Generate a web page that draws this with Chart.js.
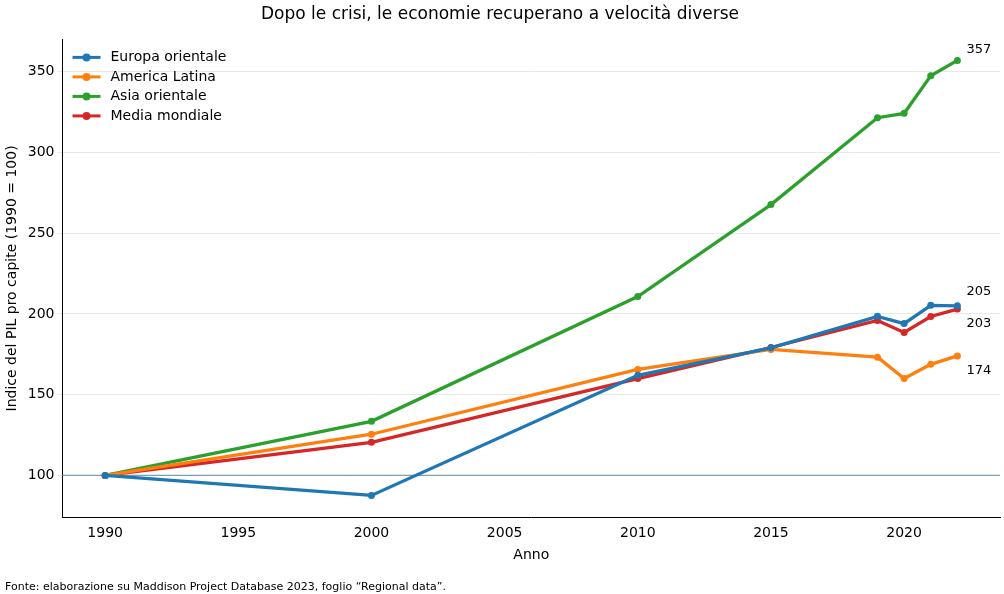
<!DOCTYPE html>
<html><head><meta charset="utf-8">
<script src="https://cdn.jsdelivr.net/npm/chart.js@4"></script>
<style>html,body{margin:0;background:#fff}#w{width:1004px;height:594px}</style>
</head><body><div id="w"><canvas id="c"></canvas></div>
<script>
// dati
const anni = [1990, 2000, 2010, 2015, 2019, 2020, 2021, 2022];
const europaOrientale = [100, 87.6, 162, 179, 198.5, 194, 205.3, 205];
const americaLatina = [100, 125.5, 165.6, 178, 173.2, 160, 168.8, 174];
const asiaOrientale = [100, 133.5, 210.8, 267.7, 321.5, 324.2, 347.5, 357];
const mediaMondiale = [100, 120.5, 160, 179.2, 196, 188.5, 198.4, 203];
const tickX = [1990, 1995, 2000, 2005, 2010, 2015, 2020];
const tickY = [100, 150, 200, 250, 300, 350];

const serie = [
  ['Europa orientale', europaOrientale, '#1f77b4'],
  ['America Latina', americaLatina, '#ff7f0e'],
  ['Asia orientale', asiaOrientale, '#2ca02c'],
  ['Media mondiale', mediaMondiale, '#d62728']
];
const font = "'DejaVu Sans', sans-serif";
Chart.defaults.font.family = font;
Chart.defaults.color = '#000';

const extra = {
  id: 'extra',
  beforeDatasetsDraw(chart) {
    const {ctx, chartArea: a, scales: {y}} = chart;
    const py = y.getPixelForValue(100);
    ctx.save();
    ctx.strokeStyle = '#7f9fb0'; ctx.lineWidth = 1.2;
    ctx.beginPath(); ctx.moveTo(a.left, py); ctx.lineTo(a.right, py); ctx.stroke();
    ctx.restore();
  },
  afterDraw(chart) {
    const {ctx, chartArea: a, scales: {x, y}} = chart;
    ctx.save();
    // etichette finali
    ctx.font = '13px ' + font; ctx.fillStyle = '#000'; ctx.textBaseline = 'middle';
    const last = anni.length - 1;
    [[europaOrientale, -14], [mediaMondiale, 15], [americaLatina, 15], [asiaOrientale, -11]].forEach(([d, dy]) => {
      const val = d[last];
      ctx.fillText(Math.round(val), x.getPixelForValue(anni[last]) + 9, y.getPixelForValue(val) + dy);
    });
    // legenda
    ctx.font = '14px ' + font;
    serie.forEach(([l, d, c], i) => {
      const ly = a.top + 18 + i * 19.5, lx = a.left + 10;
      ctx.strokeStyle = c; ctx.fillStyle = c; ctx.lineWidth = 3;
      ctx.beginPath(); ctx.moveTo(lx, ly); ctx.lineTo(lx + 28, ly); ctx.stroke();
      ctx.beginPath(); ctx.arc(lx + 14, ly, 4, 0, Math.PI * 2); ctx.fill();
      ctx.fillStyle = '#000'; ctx.fillText(l, lx + 38, ly);
    });
    ctx.font = '11px ' + font; ctx.textBaseline = 'alphabetic';
    ctx.fillText('Fonte: elaborazione su Maddison Project Database 2023, foglio \u201cRegional data\u201d.', 5, 590);
    ctx.restore();
  }
};

new Chart(document.getElementById('c'), {
  type: 'line',
  data: {
    datasets: serie.map(([l, d, c]) => ({
      label: l, data: anni.map((a, i) => ({x: a, y: d[i]})),
      borderColor: c, backgroundColor: c, borderWidth: 3.3,
      pointRadius: 3.5, pointHoverRadius: 3.5, pointBorderWidth: 0, tension: 0
    }))
  },
  options: {
    responsive: true, maintainAspectRatio: false, animation: false,
    layout: {padding: {left: 0, right: 4, top: 0, bottom: 28}},
    plugins: {
      title: {display: true, text: 'Dopo le crisi, le economie recuperano a velocità diverse',
        font: {size: 17, weight: 'normal'}, padding: {top: 4, bottom: 15}},
      legend: {display: false},
      tooltip: {enabled: false}
    },
    scales: {
      x: {type: 'linear', min: 1988.4, max: 2023.6,
        afterBuildTicks: s => { s.ticks = tickX.map(v => ({value: v})); },
        ticks: {font: {size: 14}, callback: v => String(v)},
        grid: {display: false, drawTicks: true, tickLength: 5}, border: {color: '#000'},
        title: {display: true, text: 'Anno', font: {size: 14}, padding: 2}},
      y: {min: 74, max: 370,
        afterBuildTicks: s => { s.ticks = tickY.map(v => ({value: v})); },
        ticks: {font: {size: 14}},
        grid: {color: '#e8e8e8', tickLength: 5}, border: {color: '#000'},
        title: {display: true, text: 'Indice del PIL pro capite (1990 = 100)', font: {size: 14}, padding: 4}}
    }
  },
  plugins: [extra]
});
</script></body></html>
